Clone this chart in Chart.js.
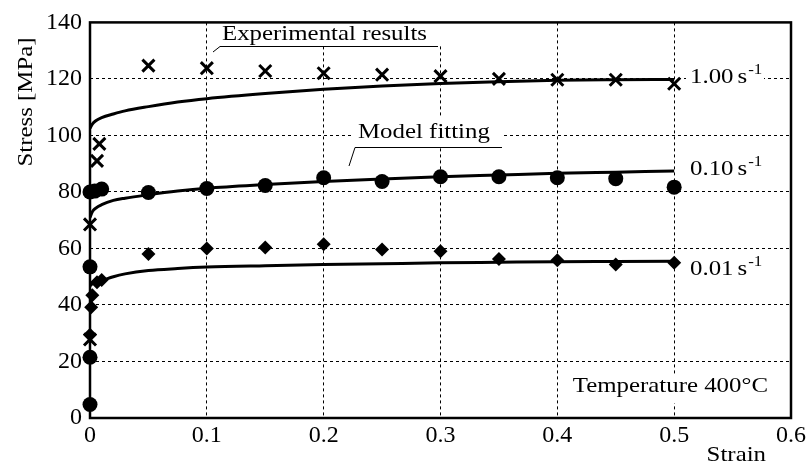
<!DOCTYPE html>
<html>
<head>
<meta charset="utf-8">
<script src="https://cdn.jsdelivr.net/npm/chart.js@4.4.1/dist/chart.umd.min.js"></script>
<style>
  html, body { margin: 0; padding: 0; background: #fff; }
  #wrap { width: 809px; height: 468px; }
</style>
</head>
<body>
<div id="wrap"><canvas id="stressChart" width="809" height="468"></canvas></div>
<script>
const serif = "'Liberation Serif', 'Times New Roman', serif";
Chart.defaults.font.family = serif;
Chart.defaults.color = '#000';

// axis ticks
const xTicks = [0, 0.1, 0.2, 0.3, 0.4, 0.5, 0.6];
const xTickLabels = ['0', '0.1', '0.2', '0.3', '0.4', '0.5', '0.6'];
const yTicks = [0, 20, 40, 60, 80, 100, 120, 140];
const yTickLabels = ['0', '20', '40', '60', '80', '100', '120', '140'];

// experimental results (strain, stress in MPa)
const exp100Strain = [0, 0, 0.006, 0.008, 0.05, 0.1, 0.15, 0.2, 0.25, 0.3, 0.35, 0.4, 0.45, 0.5];
const exp100Stress = [27.8, 68.5, 91, 97, 124.7, 123.8, 122.8, 122, 121.5, 121, 120, 119.7, 119.7, 118.3];

const exp010Strain = [0, 0, 0, 0, 0.004, 0.01, 0.05, 0.1, 0.15, 0.2, 0.25, 0.3, 0.35, 0.4, 0.45, 0.5];
const exp010Stress = [4.8, 21.5, 53.5, 80, 80.3, 81, 79.8, 81.2, 82.3, 85, 83.7, 85.4, 85.4, 85, 84.7, 81.7];

const exp001Strain = [0, 0.001, 0.002, 0.006, 0.01, 0.05, 0.1, 0.15, 0.2, 0.25, 0.3, 0.35, 0.4, 0.45, 0.5];
const exp001Stress = [29.5, 39.2, 43.4, 48, 48.8, 58, 60, 60.3, 61.5, 59.6, 59, 56.3, 55.8, 54.3, 54.9];

// model fitting curves
const modelStrain = [0, 0.002, 0.005, 0.01, 0.02, 0.03, 0.05, 0.075, 0.1, 0.15, 0.2, 0.25, 0.3, 0.35, 0.4, 0.45, 0.5];
const model100 = [102.5, 104, 105.2, 106.3, 107.6, 108.7, 110.2, 111.8, 113, 114.8, 116.3, 117.5, 118.4, 119, 119.5, 119.7, 119.8];
const model010 = [71, 73, 74.3, 75.5, 77, 77.8, 79, 80.3, 81.3, 82.6, 83.7, 84.6, 85.4, 86, 86.6, 87, 87.4];
const model001 = [46.8, 47.5, 48, 48.6, 50, 51, 52.2, 52.9, 53.4, 53.9, 54.3, 54.6, 54.9, 55.1, 55.3, 55.4, 55.5];

const rateLabels = ['1.00', '0.10', '0.01'];

function toPoints(xs, ys) {
    return xs.map((x, i) => ({x: x, y: ys[i]}));
}

function modelSet(values) {
    return {
        data: toPoints(modelStrain, values),
        showLine: true,
        borderColor: '#000',
        borderWidth: 3,
        pointRadius: 0,
        cubicInterpolationMode: 'monotone',
        fill: false,
        order: 2
    };
}

function expSet(xs, ys, style, radius, width) {
    return {
        data: toPoints(xs, ys),
        showLine: false,
        pointStyle: style,
        pointRadius: radius,
        pointBorderWidth: width,
        backgroundColor: '#000',
        borderColor: '#000',
        clip: false,
        order: 1
    };
}

// serif text, a bit stretched to get closer to the wide LaTeX face
const stretch = 1.13;
function wideText(ctx, txt, x, y, align) {
    const w = ctx.measureText(txt).width * stretch;
    let left = x;
    if (align === 'right') left = x - w;
    if (align === 'center') left = x - w / 2;
    ctx.save();
    ctx.textAlign = 'left';
    ctx.translate(left, y);
    ctx.scale(stretch, 1);
    ctx.fillText(txt, 0, 0);
    ctx.restore();
    return w;
}

// texts, leader lines and the frame
const annotate = {
    id: 'annotate',
    beforeDatasetsDraw(chart) {
        const ctx = chart.ctx;
        const a = chart.chartArea;
        ctx.save();

        // white boxes so the dashed grid stops behind the texts
        ctx.fillStyle = '#fff';
        ctx.fillRect(217, 17, 224, 29);
        ctx.fillRect(352, 116, 150, 31);
        ctx.fillRect(562, 375, 208, 28);
        ctx.fillRect(686, 62, 78, 26);
        ctx.fillRect(686, 155, 78, 26);
        ctx.fillRect(686, 255, 78, 26);

        ctx.fillStyle = '#000';
        ctx.strokeStyle = '#000';
        ctx.textBaseline = 'alphabetic';

        ctx.font = '22px ' + serif;
        wideText(ctx, 'Experimental results', 222, 40, 'left');
        wideText(ctx, 'Model fitting', 358, 138, 'left');
        wideText(ctx, 'Temperature 400\u00B0C', 768, 392, 'right');

        // leader lines
        ctx.lineWidth = 1;
        ctx.beginPath();
        ctx.moveTo(213, 52); ctx.lineTo(220, 46.5); ctx.lineTo(438, 46.5);
        ctx.moveTo(349, 166); ctx.lineTo(355, 147.5); ctx.lineTo(502, 147.5);
        ctx.stroke();

        // strain rate labels
        const bases = [83, 175, 275];
        rateLabels.forEach((txt, i) => {
            ctx.font = '22px ' + serif;
            const w = wideText(ctx, txt, 690, bases[i], 'left');
            const ws = wideText(ctx, 's', 690 + w + 4, bases[i], 'left');
            ctx.font = '15px ' + serif;
            wideText(ctx, '-1', 690 + w + 4 + ws + 1, bases[i] - 9, 'left');
        });

        // axis titles
        ctx.font = '22px ' + serif;
        wideText(ctx, 'Strain', 766, 461, 'right');
        ctx.translate(32, 102);
        ctx.rotate(-Math.PI / 2);
        wideText(ctx, 'Stress [MPa]', 0, 0, 'center');
        ctx.restore();

        // frame
        ctx.save();
        ctx.lineWidth = 2.5;
        ctx.strokeStyle = '#000';
        ctx.strokeRect(a.left, a.top, a.right - a.left, a.bottom - a.top);
        ctx.restore();
    }
};

function innerGrid(ticks) {
    return ctx => {
        const v = ctx.tick ? ctx.tick.value : null;
        return (v === ticks[0] || v === ticks[ticks.length - 1]) ? 'rgba(0,0,0,0)' : '#000';
    };
}

const chartCanvas = document.getElementById('stressChart');
new Chart(chartCanvas, {
    type: 'scatter',
    data: {
        datasets: [
            modelSet(model100),
            modelSet(model010),
            modelSet(model001),
            expSet(exp100Strain, exp100Stress, 'crossRot', 8.5, 3),
            expSet(exp010Strain, exp010Stress, 'circle', 7.5, 0),
            expSet(exp001Strain, exp001Stress, 'rectRot', 7, 0)
        ]
    },
    options: {
        responsive: false,
        animation: false,
        layout: { padding: { top: 15, right: 17, left: 0, bottom: 0 } },
        plugins: {
            legend: { display: false },
            tooltip: { enabled: false }
        },
        scales: {
            x: {
                type: 'linear',
                min: 0,
                max: 0.6,
                afterBuildTicks: s => { s.ticks = xTicks.map(v => ({value: v})); },
                afterFit: s => { s.height = 50; },
                ticks: {
                    callback: (v, i) => xTickLabels[i],
                    color: '#000',
                    font: { family: serif, size: 24 },
                    padding: 3,
                    maxRotation: 0,
                    autoSkip: false
                },
                grid: { color: innerGrid(xTicks), lineWidth: 1, drawTicks: false },
                border: { display: false, dash: [3, 3] }
            },
            y: {
                type: 'linear',
                min: 0,
                max: 140,
                afterBuildTicks: s => { s.ticks = yTicks.map(v => ({value: v})); },
                afterFit: s => { s.width = 90; },
                ticks: {
                    callback: (v, i) => yTickLabels[i],
                    color: '#000',
                    font: { family: serif, size: 24 },
                    padding: 8,
                    autoSkip: false
                },
                grid: { color: innerGrid(yTicks), lineWidth: 1, drawTicks: false },
                border: { display: false, dash: [3, 3] }
            }
        }
    },
    plugins: [annotate]
});
</script>
</body>
</html>
